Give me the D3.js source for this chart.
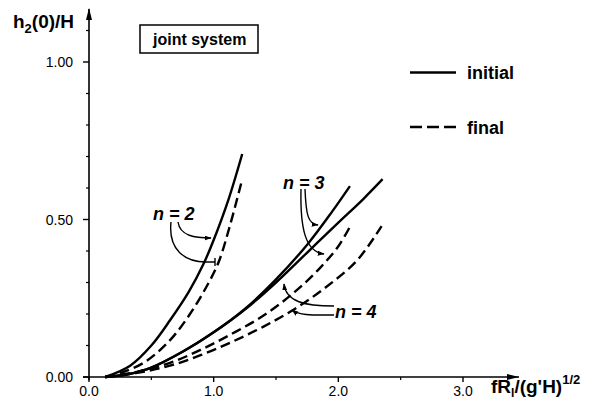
<!DOCTYPE html>
<html><head><meta charset="utf-8">
<script src="https://cdn.jsdelivr.net/npm/d3@7"></script>
<style>
body{margin:0;background:#fff;}
svg{display:block;}
text{font-family:"Liberation Sans",Arial,Helvetica,sans-serif;fill:#000;}
</style></head>
<body>
<svg id="chart" width="600" height="405"></svg>
<script>
// ---- data ----
const xTicks = [0, 1, 2, 3];
const xTickLabels = ["0.0", "1.0", "2.0", "3.0"];
const xMinorTicks = [0.5, 1.5, 2.5];
const yTicks = [0, 0.5, 1.0];
const yTickLabels = ["0.00", "0.50", "1.00"];
const yMinorTicks = [0.1, 0.2, 0.3, 0.4, 0.6, 0.7, 0.8, 0.9, 1.1];

const n2Initial = [[0.13,0.0],[0.33,0.036],[0.5,0.1],[0.65,0.18],[0.8,0.27],[0.92,0.36],[1.0,0.435],[1.12,0.565],[1.229,0.708]];
const n2Final   = [[0.13,0.0],[0.25,0.012],[0.45,0.048],[0.65,0.117],[0.81,0.2],[0.94,0.285],[1.04,0.365],[1.13,0.48],[1.224,0.62]];
const n3Initial = [[0.13,0.0],[0.3,0.008],[0.5,0.03],[0.75,0.08],[1.0,0.142],[1.25,0.216],[1.5,0.31],[1.75,0.42],[1.95,0.525],[2.093,0.606]];
const n4Initial = [[0.13,0.0],[0.3,0.008],[0.5,0.03],[0.75,0.08],[1.0,0.142],[1.25,0.214],[1.5,0.30],[1.75,0.395],[2.0,0.49],[2.2,0.565],[2.355,0.628]];
const n3Final   = [[0.13,0.0],[0.4,0.018],[0.65,0.045],[0.9,0.087],[1.15,0.138],[1.4,0.195],[1.65,0.27],[1.85,0.345],[2.0,0.415],[2.093,0.477]];
const n4Final   = [[0.13,0.0],[0.4,0.014],[0.65,0.036],[0.9,0.07],[1.15,0.112],[1.4,0.16],[1.65,0.216],[1.9,0.285],[2.15,0.37],[2.347,0.479]];

const seriesData = [n2Initial, n2Final, n3Initial, n4Initial, n3Final, n4Final];
const seriesKind = ["initial","final","initial","initial","final","final"];

const legendLabels = ["initial", "final"];

// ---- drawing ----
const svg = d3.select("#chart");
const x = d3.scaleLinear().domain([0, 3]).range([89, 463]);
const y = d3.scaleLinear().domain([0, 1]).range([377, 62]);

const defs = svg.append("defs");
defs.append("marker").attr("id","ah").attr("viewBox","0 0 10 10")
  .attr("refX",9).attr("refY",5).attr("markerWidth",7).attr("markerHeight",7)
  .attr("orient","auto").attr("markerUnits","userSpaceOnUse")
  .append("path").attr("d","M0,1.5 L10,5 L0,8.5 Z").attr("fill","#000");

// axes
const g = svg.append("g");
g.append("line").attr("x1", x(0) - 6).attr("x2", 519).attr("y1", y(0)).attr("y2", y(0))
  .attr("stroke","#000").attr("stroke-width",1.6);
g.append("path").attr("d", `M519,${y(0)} l-12,-3 l0,6 Z`).attr("fill","#000");
g.append("line").attr("x1", x(0)).attr("x2", x(0)).attr("y1", y(0) + 3).attr("y2", 9)
  .attr("stroke","#000").attr("stroke-width",1.6);
g.append("path").attr("d", `M${x(0)},8 l-3,12 l6,0 Z`).attr("fill","#000");

g.selectAll(".xt").data(xTicks).enter().append("line")
  .attr("x1", d => x(d)).attr("x2", d => x(d)).attr("y1", y(0)).attr("y2", y(0) + 5)
  .attr("stroke","#000").attr("stroke-width",1.4);
g.selectAll(".xm").data(xMinorTicks).enter().append("line")
  .attr("x1", d => x(d)).attr("x2", d => x(d)).attr("y1", y(0)).attr("y2", y(0) + 3)
  .attr("stroke","#000").attr("stroke-width",1.2);
g.selectAll(".xl").data(xTicks).enter().append("text")
  .attr("x", d => x(d)).attr("y", 396).attr("text-anchor","middle")
  .attr("font-size", 14).text((d,i) => xTickLabels[i]);

g.selectAll(".yt").data(yTicks).enter().append("line")
  .attr("x1", x(0) - 6).attr("x2", x(0)).attr("y1", d => y(d)).attr("y2", d => y(d))
  .attr("stroke","#000").attr("stroke-width",1.4);
g.selectAll(".ym").data(yMinorTicks).enter().append("line")
  .attr("x1", x(0) - 3).attr("x2", x(0)).attr("y1", d => y(d)).attr("y2", d => y(d))
  .attr("stroke","#000").attr("stroke-width",1.2);
g.selectAll(".yl").data(yTicks).enter().append("text")
  .attr("x", 73).attr("y", d => y(d) + 5).attr("text-anchor","end")
  .attr("font-size", 14).text((d,i) => yTickLabels[i]);

// axis titles
const yt = svg.append("text").attr("x", 13).attr("y", 28).attr("font-size", 19).attr("font-weight","bold");
yt.append("tspan").text("h");
yt.append("tspan").attr("font-size", 13).attr("dy", 5).text("2");
yt.append("tspan").attr("dy", -5).text("(0)/H");

const xt = svg.append("text").attr("x", 491).attr("y", 393).attr("font-size", 19).attr("font-weight","bold");
xt.append("tspan").text("fR");
xt.append("tspan").attr("font-size", 12).attr("dy", 4).text("l");
xt.append("tspan").attr("dy", -4).text("/(g'H)");
xt.append("tspan").attr("font-size", 13).attr("dy", -9).text("1/2");

// box
svg.append("rect").attr("x", 140).attr("y", 25).attr("width", 118).attr("height", 28)
  .attr("fill","none").attr("stroke","#000").attr("stroke-width",1.5);
svg.append("text").attr("x", 153).attr("y", 45).attr("font-size", 16).attr("font-weight","bold").text("joint system");

// curves
const line = d3.line().x(d => x(d[0])).y(d => y(d[1])).curve(d3.curveCatmullRom.alpha(0.5));
svg.append("g").selectAll("path").data(seriesData).enter().append("path")
  .attr("d", d => line(d))
  .attr("fill","none").attr("stroke","#000").attr("stroke-width",2.4)
  .attr("stroke-linecap","butt")
  .attr("stroke-dasharray", (d,i) => seriesKind[i] === "final" ? "10,5" : null);

// legend
const lg = svg.append("g");
legendLabels.forEach((lab, i) => {
  const ly = i === 0 ? 72.5 : 127;
  lg.append("line").attr("x1", 410).attr("x2", 456).attr("y1", ly).attr("y2", ly)
    .attr("stroke","#000").attr("stroke-width",2.6)
    .attr("stroke-dasharray", i === 1 ? "12,5" : null);
  lg.append("text").attr("x", 467).attr("y", ly + 6.5).attr("font-size", 18)
    .attr("font-weight","bold").text(lab);
});

// annotations
const ann = svg.append("g").attr("fill","none").attr("stroke","#000").attr("stroke-width",1.4);
function label(tx, ty, txt){
  svg.append("text").attr("x", tx).attr("y", ty).attr("font-size", 18)
    .attr("font-weight","bold").attr("font-style","italic").text(txt);
}
label(153, 220, "n = 2");
label(283, 189, "n = 3");
label(335, 318, "n = 4");

ann.append("path").attr("d", "M178,222 C180,236 195,238 211,238").attr("marker-end","url(#ah)");
ann.append("path").attr("d", "M171,222 C168,250 185,262 206,262 L215,262");
ann.append("path").attr("d", "M215,258 L215,266");
ann.append("path").attr("d", "M305,189 C306,215 308,224 318,225").attr("marker-end","url(#ah)");
ann.append("path").attr("d", "M301,189 C300,230 306,252 324,254").attr("marker-end","url(#ah)");
ann.append("path").attr("d", "M334,306 C305,306 286,302 284,284").attr("marker-end","url(#ah)");
ann.append("path").attr("d", "M334,315 C315,315 300,316 292,310").attr("marker-end","url(#ah)");
</script>
</body></html>
